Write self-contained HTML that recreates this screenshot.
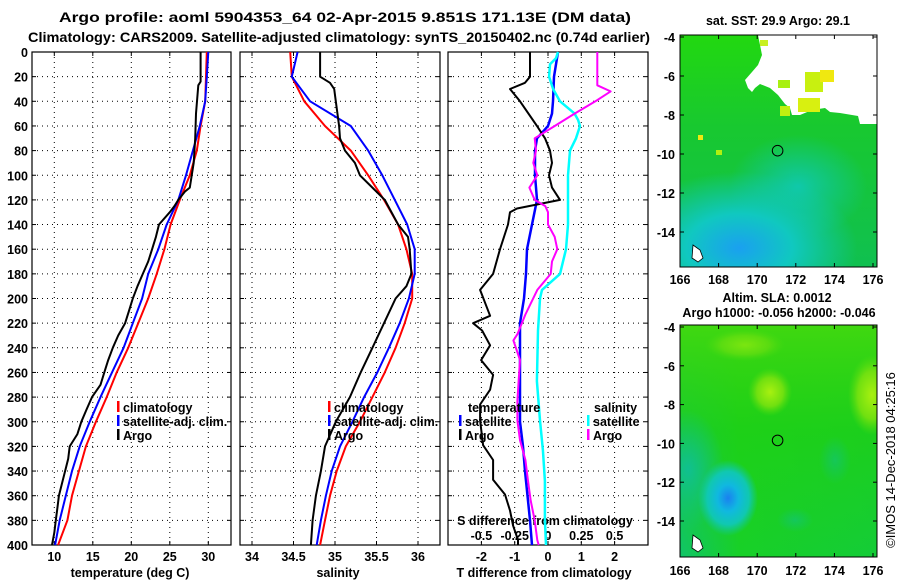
<!DOCTYPE html>
<html><head><meta charset="utf-8">
<style>
html,body{margin:0;padding:0;background:#fff;}
svg{display:block;font-family:"Liberation Sans",sans-serif;font-weight:bold;}
text{fill:#000;}
</style></head>
<body>
<svg id="fig" width="900" height="580" viewBox="0 0 900 580" xmlns="http://www.w3.org/2000/svg">
<defs>
<radialGradient id="gBlueT" cx="0.3" cy="0.85" r="0.6">
<stop offset="0" stop-color="#1aa0f0"/><stop offset="0.45" stop-color="#10c8c0"/><stop offset="1" stop-color="#10c8c0" stop-opacity="0"/>
</radialGradient>
<radialGradient id="gCyanT" cx="0.6" cy="0.45" r="0.35">
<stop offset="0" stop-color="#10c8a8"/><stop offset="1" stop-color="#10c8a8" stop-opacity="0"/>
</radialGradient>
<linearGradient id="gTopT" x1="0" y1="0" x2="0" y2="1">
<stop offset="0" stop-color="#22d810"/><stop offset="0.4" stop-color="#18c830"/><stop offset="1" stop-color="#10c050"/>
</linearGradient>
<radialGradient id="gBlob" cx="0.5" cy="0.5" r="0.5">
<stop offset="0" stop-color="#1a80f0"/><stop offset="0.35" stop-color="#10b8e0"/><stop offset="0.7" stop-color="#10c8b0"/><stop offset="1" stop-color="#10c8a0" stop-opacity="0"/>
</radialGradient>
<radialGradient id="gYel" cx="0.5" cy="0.5" r="0.5">
<stop offset="0" stop-color="#a8f010"/><stop offset="0.6" stop-color="#70e010"/><stop offset="1" stop-color="#50dc10" stop-opacity="0"/>
</radialGradient>
<radialGradient id="gTeal" cx="0.5" cy="0.5" r="0.5">
<stop offset="0" stop-color="#10c090"/><stop offset="1" stop-color="#10c090" stop-opacity="0"/>
</radialGradient>
<linearGradient id="gBotBase" x1="0" y1="0" x2="1" y2="0">
<stop offset="0" stop-color="#10c468"/><stop offset="0.3" stop-color="#18d028"/><stop offset="1" stop-color="#14cc38"/>
</linearGradient>
<linearGradient id="gBotTop" x1="0" y1="0" x2="0" y2="1">
<stop offset="0" stop-color="#40d810"/><stop offset="0.45" stop-color="#20d010" stop-opacity="0.7"/><stop offset="1" stop-color="#20d010" stop-opacity="0"/>
</linearGradient>
<clipPath id="clipTop"><rect x="680" y="35" width="197" height="232"/></clipPath>
<clipPath id="clipBot"><rect x="680" y="325" width="197" height="232"/></clipPath>
</defs>

<text x="345" y="22" font-size="14" text-anchor="middle" textLength="572" lengthAdjust="spacingAndGlyphs">Argo profile: aoml 5904353_64 02-Apr-2015 9.851S 171.13E (DM data)</text>
<text x="339" y="42" font-size="14" text-anchor="middle" textLength="622" lengthAdjust="spacingAndGlyphs">Climatology: CARS2009. Satellite-adjusted climatology: synTS_20150402.nc (0.74d earlier)</text>

<g id="panels"></g>

<g>
<text x="778" y="25" font-size="12.5" text-anchor="middle">sat. SST: 29.9 Argo: 29.1</text>
<g clip-path="url(#clipTop)">
<rect x="680" y="35" width="197" height="232" fill="url(#gTopT)"/>
<rect x="680" y="120" width="197" height="147" fill="url(#gCyanT)"/>
<rect x="680" y="140" width="197" height="127" fill="url(#gBlueT)"/>
<polygon points="758,35 877,35 877,124 860,124 858,116 840,113 830,112 825,108 812,110 800,115 792,115 790,108 785,104 778,95 770,88 760,84 755,88 752,92 748,88 745,80 752,72 758,65 762,55" fill="#fff"/>
<rect x="798" y="98" width="22" height="14" fill="#d8f010"/>
<rect x="805" y="72" width="18" height="20" fill="#c8f010"/>
<rect x="820" y="70" width="14" height="12" fill="#f0e810"/>
<rect x="760" y="40" width="8" height="6" fill="#c8f020"/>
<rect x="780" y="106" width="10" height="10" fill="#c0f010"/>
<rect x="778" y="80" width="12" height="8" fill="#a8f010"/>
<rect x="698" y="135" width="5" height="5" fill="#f0e810"/>
<rect x="716" y="150" width="6" height="5" fill="#b0f010"/>
<polygon points="693,245 700,250 703,258 698,262 692,258" fill="#fff" stroke="#000" stroke-width="0.8"/>
</g>
<rect x="680" y="35" width="197" height="232" fill="none" stroke="#000" stroke-width="1"/>
<circle cx="777.6" cy="150.7" r="5.3" fill="none" stroke="#000" stroke-width="1"/>
<g id="topAxes"></g>
</g>

<g>
<text x="777" y="302" font-size="12.5" text-anchor="middle">Altim. SLA: 0.0012</text>
<text x="779" y="317" font-size="12.5" text-anchor="middle">Argo h1000: -0.056 h2000: -0.046</text>
<g clip-path="url(#clipBot)">
<rect x="680" y="325" width="197" height="232" fill="url(#gBotBase)"/>
<rect x="680" y="325" width="197" height="232" fill="url(#gBotTop)"/>
<ellipse cx="770" cy="392" rx="22" ry="24" fill="url(#gYel)"/>
<ellipse cx="872" cy="395" rx="24" ry="40" fill="url(#gYel)"/>
<ellipse cx="745" cy="345" rx="40" ry="16" fill="url(#gYel)" opacity="0.6"/>
<ellipse cx="688" cy="470" rx="36" ry="60" fill="url(#gTeal)"/>
<ellipse cx="728" cy="498" rx="30" ry="38" fill="url(#gBlob)"/>
<ellipse cx="835" cy="460" rx="16" ry="24" fill="url(#gTeal)" opacity="0.5"/>
<ellipse cx="795" cy="520" rx="18" ry="12" fill="url(#gTeal)" opacity="0.5"/>
<polygon points="693,535 700,540 703,548 698,552 692,548" fill="#fff" stroke="#000" stroke-width="0.8"/>
</g>
<rect x="680" y="325" width="197" height="232" fill="none" stroke="#000" stroke-width="1"/>
<circle cx="777.6" cy="440.4" r="5.3" fill="none" stroke="#000" stroke-width="1"/>
<g id="botAxes"></g>
</g>

<text transform="translate(895,460) rotate(-90)" font-size="13" font-weight="normal" text-anchor="middle">©IMOS 14-Dec-2018 04:25:16</text>
</svg>

<script>
const depthTicks = [0,20,40,60,80,100,120,140,160,180,200,220,240,260,280,300,320,340,360,380,400];
const tempTicks = [10,15,20,25,30];
const salTicks = [34,34.5,35,35.5,36];
const salTickLabels = ["34","34.5","35","35.5","36"];
const tdiffTicks = [-2,-1,0,1,2];
const sdiffTicks = [-0.5,-0.25,0,0.25,0.5];
const sdiffTickLabels = ["-0.5","-0.25","0","0.25","0.5"];

const climDepth = [0,20,40,60,80,100,120,140,160,180,200,220,240,260,280,300,320,340,360,380,400];
const tempClim = [29.8,29.7,29.6,29.0,28.5,27.6,26.3,25.1,24.3,23.3,22.2,20.9,19.6,18.1,16.8,15.4,14.1,13.2,12.3,11.7,10.5];
const tempSat  = [30.0,29.8,29.6,28.9,28.0,27.1,26.1,24.6,23.5,22.2,21.4,20.2,19.0,17.5,16.0,14.6,13.3,12.3,11.5,10.7,10.1];
const salClim  = [34.46,34.48,34.63,34.88,35.19,35.40,35.59,35.76,35.86,35.93,35.93,35.84,35.73,35.60,35.45,35.30,35.13,35.02,34.94,34.88,34.82];
const salSat   = [34.55,34.48,34.70,35.19,35.40,35.57,35.72,35.87,35.96,35.96,35.89,35.78,35.65,35.51,35.35,35.21,35.06,34.96,34.89,34.83,34.78];

const argoTDepth = [0,24,27,50,70,90,110,113,120,125,130,140,150,160,170,180,190,200,210,220,230,240,250,260,270,280,290,300,310,320,330,340,350,360,370,380,390,400];
const argoTemp   = [29.0,29.0,28.7,28.4,28.3,28.1,27.6,27.0,26.1,25.6,25.0,23.6,23.2,22.7,22.2,21.5,20.8,20.2,19.7,19.2,18.3,17.6,17.0,16.5,16.0,14.9,14.2,13.5,13.0,12.0,11.8,11.4,11.0,10.6,10.4,10.2,10.0,9.7];
const argoSDepth = [0,20,25,30,40,60,70,80,90,100,110,120,140,150,160,180,190,200,220,240,260,280,300,320,340,360,380,400];
const argoSal    = [34.82,34.82,34.94,34.99,35.01,35.05,35.06,35.12,35.24,35.30,35.45,35.60,35.76,35.88,35.90,35.92,35.86,35.73,35.59,35.45,35.31,35.18,35.01,34.88,34.83,34.77,34.73,34.71];

const tdiffSatDepth = [0,20,40,50,60,70,80,100,120,140,160,180,200,220,260,300,320,340,380,400];
const tdiffSat      = [0.30,0.18,0.15,0.12,0.0,-0.33,-0.39,-0.39,-0.33,-0.48,-0.63,-0.66,-0.72,-0.84,-0.84,-0.84,-0.75,-0.69,-0.54,-0.48];
const tdiffArgoDepth = [0,20,25,30,40,60,70,80,90,100,110,120,127,130,140,160,180,193,214,220,226,238,250,262,274,286,299,319,331,347,359,372,384,396,400];
const tdiffArgo      = [-0.54,-0.54,-0.69,-1.14,-0.84,-0.33,-0.09,0.06,0.12,0.03,0.12,0.36,-0.93,-1.14,-1.20,-1.44,-1.65,-2.04,-1.74,-2.25,-1.98,-1.74,-2.01,-1.65,-1.74,-2.04,-2.04,-1.95,-1.65,-1.65,-1.29,-1.14,-1.05,-0.90,-0.90];
const sdiffSatDepth = [0,5,10,20,30,40,50,55,60,70,80,100,120,140,160,180,193,200,226,267,299,323,348,380,400];
const sdiffSat      = [0.075,0.06,0.015,0.008,0.038,0.09,0.2,0.225,0.24,0.21,0.165,0.15,0.15,0.15,0.135,0.09,-0.045,-0.06,-0.075,-0.083,-0.06,-0.038,-0.023,-0.023,-0.015];
const sdiffArgoDepth = [0,20,27,32,39,50,60,70,80,90,100,110,120,125,130,140,150,160,170,180,193,213,229,234,250,266,283,299,315,331,348,364,380,396,400];
const sdiffArgo      = [0.37,0.37,0.37,0.47,0.37,0.2,0.05,-0.1,-0.09,-0.11,-0.08,-0.14,-0.1,-0.02,0.0,0.0,0.05,0.07,0.03,0.02,-0.08,-0.17,-0.23,-0.26,-0.21,-0.22,-0.23,-0.23,-0.21,-0.17,-0.15,-0.13,-0.1,-0.08,-0.07];

const latTicks = [-4,-6,-8,-10,-12,-14];
const lonTicks = [166,168,170,172,174,176];

const NS = "http://www.w3.org/2000/svg";
function mk(tag, attrs, parent) {
  const e = document.createElementNS(NS, tag);
  for (const k in attrs) e.setAttribute(k, attrs[k]);
  parent.appendChild(e);
  return e;
}
const Y0 = 52, Y1 = 545;
const yD = d => Y0 + (d / 400) * (Y1 - Y0);
const xT = t => 54.3 + (t - 10) * 7.7;
const xS = s => 252 + (s - 34) * 83;
const xTD = v => 548 + v * 33.3;
const xSD = v => 548 + v * 133.2;

const panels = document.getElementById("panels");
const boxes = [{x0:32,x1:231,name:"temperature-panel"},{x0:240,x1:440,name:"salinity-panel"},{x0:448,x1:648,name:"difference-panel"}];
const gridX = [tempTicks.map(xT), salTicks.map(xS), tdiffTicks.map(xTD)];

boxes.forEach((b, i) => {
  const g = mk("g", {}, panels);
  
  
  depthTicks.forEach(d => {
    if (d === 0 || d === 400) return;
    const l = mk("line", {x1:b.x0, x2:b.x1, y1:yD(d), y2:yD(d), stroke:"#000", "stroke-width":1, "stroke-dasharray":"1,4"}, g);
    
    
  });
  gridX[i].forEach(x => {
    const l = mk("line", {x1:x, x2:x, y1:Y0, y2:Y1, stroke:"#000", "stroke-width":1, "stroke-dasharray":"1,4"}, g);
    
    
    mk("line", {x1:x, x2:x, y1:Y1, y2:Y1-4, stroke:"#000"}, g);
    mk("line", {x1:x, x2:x, y1:Y0, y2:Y0+4, stroke:"#000"}, g);
  });
  depthTicks.forEach(d => {
    mk("line", {x1:b.x0, x2:b.x0+4, y1:yD(d), y2:yD(d), stroke:"#000"}, g);
    mk("line", {x1:b.x1, x2:b.x1-4, y1:yD(d), y2:yD(d), stroke:"#000"}, g);
  });
  const r = mk("rect", {x:b.x0, y:Y0, width:b.x1-b.x0, height:Y1-Y0, fill:"none", stroke:"#000", "stroke-width":1.2}, g);
  
  
});

depthTicks.forEach(d => {
  const t = mk("text", {x:28, y:yD(d)+5, "font-size":12.5, "text-anchor":"end"}, panels);
  
  
  t.textContent = d;
});
tempTicks.forEach(v => {
  const t = mk("text", {x:xT(v), y:561, "font-size":12.5, "text-anchor":"middle"}, panels);
  
  
  t.textContent = v;
});
salTicks.forEach((v, i) => {
  const t = mk("text", {x:xS(v), y:561, "font-size":12.5, "text-anchor":"middle"}, panels);
  
  
  t.textContent = salTickLabels[i];
});
tdiffTicks.forEach(v => {
  const t = mk("text", {x:xTD(v), y:561, "font-size":12.5, "text-anchor":"middle"}, panels);
  
  
  t.textContent = v;
});
sdiffTicks.forEach((v, i) => {
  const t = mk("text", {x:xSD(v), y:540, "font-size":12.5, "text-anchor":"middle"}, panels);
  
  
  t.textContent = sdiffTickLabels[i];
});
[["temperature (deg C)",130,577,"temperature-axis-title"],["salinity",338,577,"salinity-axis-title"],["T difference from climatology",544,577,"t-diff-axis-title"],["S difference from climatology",545,525,"s-diff-axis-title"]].forEach(a => {
  const t = mk("text", {x:a[1], y:a[2], "font-size":12.5, "text-anchor":"middle"}, panels);
  
  
  t.textContent = a[0];
});

function series(depths, vals, xf, color, w, name) {
  const pts = depths.map((d, i) => xf(vals[i]).toFixed(1) + "," + yD(d).toFixed(1)).join(" ");
  const p = mk("polyline", {points:pts, fill:"none", stroke:color, "stroke-width":w, "stroke-linejoin":"round"}, panels);
  
  
}
series(climDepth, tempClim, xT, "#ff0000", 2, "temperature-climatology-line");
series(climDepth, tempSat, xT, "#0000ff", 2, "temperature-satellite-line");
series(argoTDepth, argoTemp, xT, "#000", 2, "temperature-argo-line");
series(climDepth, salClim, xS, "#ff0000", 2, "salinity-climatology-line");
series(climDepth, salSat, xS, "#0000ff", 2, "salinity-satellite-line");
series(argoSDepth, argoSal, xS, "#000", 2, "salinity-argo-line");
series(tdiffSatDepth, tdiffSat, xTD, "#0000ff", 2.5, "t-diff-satellite-line");
series(sdiffSatDepth, sdiffSat, xSD, "#00ffff", 2.5, "s-diff-satellite-line");
series(tdiffArgoDepth, tdiffArgo, xTD, "#000", 2, "t-diff-argo-line");
series(sdiffArgoDepth, sdiffArgo, xSD, "#ff00ff", 2, "s-diff-argo-line");

function legend(x, y, color, label, name) {
  const g = mk("g", {}, panels);
  
  
  if (color) mk("rect", {x:x, y:y-11, width:2.5, height:11, fill:color}, g);
  const t = mk("text", {x:x+6, y:y, "font-size":12.5}, g);
  t.textContent = label;
}
legend(117, 412, "#ff0000", "climatology", "legend-climatology");
legend(117, 426, "#0000ff", "satellite-adj. clim.", "legend-satellite");
legend(117, 440, "#000", "Argo", "legend-argo");
legend(328, 412, "#ff0000", "climatology", "legend-sal-climatology");
legend(328, 426, "#0000ff", "satellite-adj. clim.", "legend-sal-satellite");
legend(328, 440, "#000", "Argo", "legend-sal-argo");
legend(462, 412, null, "temperature", "legend-temperature-heading");
legend(459, 426, "#0000ff", "satellite", "legend-t-satellite");
legend(459, 440, "#000", "Argo", "legend-t-argo");
legend(588, 412, null, "salinity", "legend-salinity-heading");
legend(587, 426, "#00ffff", "satellite", "legend-s-satellite");
legend(587, 440, "#ff00ff", "Argo", "legend-s-argo");

function mapAxes(gid, top, lat4y, step, lonLabelY) {
  const g = document.getElementById(gid);
  const lx = l => 680 + (l - 166) * 19.3;
  latTicks.forEach((la, i) => {
    const y = lat4y + i * step;
    mk("line", {x1:680, x2:684, y1:y, y2:y, stroke:"#000"}, g);
    mk("line", {x1:877, x2:873, y1:y, y2:y, stroke:"#000"}, g);
    const t = mk("text", {x:675, y:y+5, "font-size":12.5, "text-anchor":"end"}, g);
    
    
    t.textContent = la;
  });
  lonTicks.forEach(lo => {
    const x = lx(lo);
    mk("line", {x1:x, x2:x, y1:top, y2:top+4, stroke:"#000"}, g);
    mk("line", {x1:x, x2:x, y1:top+232, y2:top+228, stroke:"#000"}, g);
    const t = mk("text", {x:x, y:lonLabelY, "font-size":12.5, "text-anchor":"middle"}, g);
    
    
    t.textContent = lo;
  });
}
mapAxes("topAxes", 35, 37, 39, 284);
mapAxes("botAxes", 325, 327, 38.8, 575);
</script>
</body></html>
